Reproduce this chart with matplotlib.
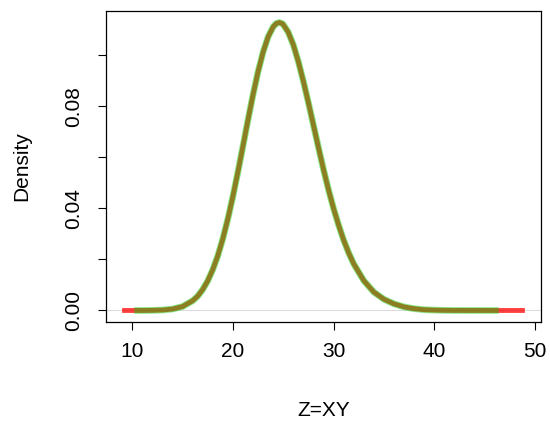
import matplotlib
matplotlib.use("Agg")
import matplotlib.pyplot as plt

plt.rcParams['font.family'] = ['Liberation Sans', 'DejaVu Sans']

# Density curve (x = Z, y = density)
z_vals = [9, 10, 11, 12, 13, 14, 15, 16, 16.5, 17, 17.5, 18, 18.5, 19, 19.5, 20,
          20.5, 21, 21.5, 22, 22.5, 23, 23.5, 24, 24.3, 24.6, 24.9, 25, 25.5, 26, 26.5, 27,
          27.5, 28, 28.5, 29, 29.5, 30, 30.5, 31, 31.5, 32, 33, 34, 35, 36, 37,
          38, 39, 40, 41, 42, 44, 46, 47, 48, 49]
dens_vals = [0.0, 0.0, 0.00001, 0.00005, 0.00018, 0.00057, 0.00155, 0.0038, 0.0056,
             0.0082, 0.0116, 0.0160, 0.0214, 0.0281, 0.0359, 0.0447, 0.0543, 0.0644,
             0.0747, 0.0846, 0.0936, 0.1013, 0.1073, 0.1112, 0.1125, 0.1129, 0.1125,
             0.1121, 0.1091, 0.1042, 0.0976, 0.0899, 0.0815, 0.0727, 0.0639, 0.0553,
             0.0473, 0.0400, 0.0335, 0.0276, 0.0226, 0.0183, 0.0117, 0.0072, 0.0044,
             0.0026, 0.0014, 0.0007, 0.0003, 0.00015, 0.00006, 0.00002, 0.00001,
             0.0, 0.0, 0.0, 0.0]

# green (theoretical) curve covers a narrower range
green_min = 10.2
green_max = 46.4

x_ticks = [10, 20, 30, 40, 50]
y_ticks = [0.00, 0.02, 0.04, 0.06, 0.08, 0.10]
y_tick_labels = ['0.00', '', '0.04', '', '0.08', '']

W, H = 550, 425
fig = plt.figure(figsize=(5.5, 4.25), dpi=100)
L, R, T, B = 106, 541, 11, 322
ax = fig.add_axes([L / W, 1 - B / H, (R - L) / W, (B - T) / H])

ax.axhline(0, color='#dcdcdc', lw=0.8, zorder=1)

ax.plot(z_vals, dens_vals, color=(1.0, 0.0, 0.0), alpha=0.75, lw=3.5,
        solid_capstyle='butt', solid_joinstyle='round', zorder=2)

gx = [v for v in z_vals if green_min <= v <= green_max]
gy = [d for v, d in zip(z_vals, dens_vals) if green_min <= v <= green_max]
gx = [green_min] + gx + [green_max]
gy = [0.0] + gy + [0.0]
ax.plot(gx, gy, color=(0.0, 0.8, 0.0), alpha=0.45, lw=4.8,
        solid_capstyle='butt', solid_joinstyle='round', zorder=3)

xmin, xmax = 9, 49
xr = xmax - xmin
ax.set_xlim(xmin - 0.04 * xr, xmax + 0.04 * xr)
ymax = 0.1129
ax.set_ylim(-0.04 * ymax, ymax * 1.04)

ax.set_xticks(x_ticks)
ax.set_xticklabels([str(t) for t in x_ticks])
ax.set_yticks(y_ticks)
ax.set_yticklabels(y_tick_labels, rotation=90, va='center')

ax.tick_params(axis='both', direction='out', length=5.5, width=0.8,
               labelsize=15, colors='black')
ax.tick_params(axis='x', pad=9)
ax.tick_params(axis='y', pad=11)

for s in ax.spines.values():
    s.set_linewidth(0.9)
    s.set_color('black')

fig.text((L + R) / 2 / W, 1 - 410 / H, 'Z=XY', fontsize=15,
         ha='center', va='center')
fig.text(22 / W, 1 - (T + B) / 2 / H, 'Density', fontsize=15,
         ha='center', va='center', rotation=90)

fig.savefig('out.png', dpi=100)
